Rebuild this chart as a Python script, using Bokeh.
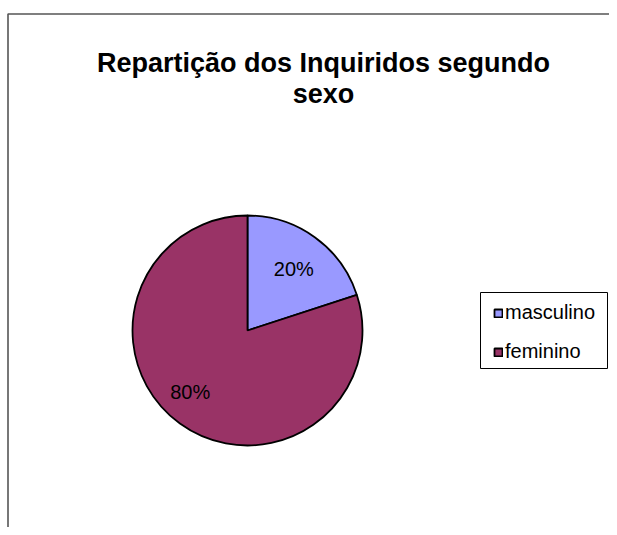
import numpy as np
from bokeh.plotting import figure
from bokeh.models import Range1d, Legend, LegendItem, ColumnDataSource
from bokeh.core.properties import value
from bokeh.embed import file_html
from bokeh.resources import INLINE

# ---- data ----
categories = ["masculino", "feminino"]
shares = [20, 80]
colors = ["#9999FF", "#993366"]
title_lines = ["Repartição dos Inquiridos segundo", "sexo"]

FONT = "Liberation Sans"
W, H = 609, 527

def py(screen_y):
    return H - screen_y

p = figure(width=W, height=H, output_backend="svg", toolbar_location=None,
           x_range=Range1d(0, W), y_range=Range1d(0, H), min_border=0)
p.axis.visible = False
p.grid.visible = False
p.outline_line_color = None
p.background_fill_color = "white"
p.border_fill_color = "white"

# chart-area frame (top and left edges visible)
p.line(x=[7.5, 7.5, W], y=[0, py(13.5), py(13.5)], line_color="#555555", line_width=1.6)

# ---- pie ----
cx, cy, r = 247, py(330), 115
frac = np.array(shares, dtype=float) / sum(shares)
cum = np.cumsum(frac)
start = np.pi / 2 - 2 * np.pi * (cum - frac)
end = np.pi / 2 - 2 * np.pi * cum
mid = (start + end) / 2

src = ColumnDataSource(dict(cat=categories, start=start, end=end, color=colors,
                            x=[cx] * len(shares), y=[cy] * len(shares)))
wr = p.wedge(x="x", y="y", radius=r, start_angle="start", end_angle="end",
             direction="clock", fill_color="color", line_color="black",
             line_width=1.8, source=src)

# data labels
lab_r = 0.7 * r
lab_src = ColumnDataSource(dict(
    x=cx + lab_r * np.cos(mid) - np.array([1, 10]),
    y=cy + lab_r * np.sin(mid) + np.array([-4, 4]),
    t=[f"{s}%" for s in shares]))
p.text(x="x", y="y", text="t", source=lab_src, text_align="center",
       text_baseline="middle", text_font=value(FONT), text_font_size="20px",
       text_color="black")

# ---- title ----
p.text(x=[323, 323], y=[py(62.5), py(93)], text=title_lines, text_align="center",
       text_baseline="alphabetic", text_font=value(FONT), text_font_style="bold",
       text_font_size="27px", text_color="black")

# ---- legend ----
# legend box
p.quad(left=[480], right=[607], top=[py(292)], bottom=[py(368)],
       fill_color="white", line_color="black", line_width=1)
items = [LegendItem(label=c, renderers=[wr], index=i) for i, c in enumerate(categories)]
legend = Legend(items=items, location=(493, H - 363), padding=9, spacing=16,
                margin=0, glyph_width=10, glyph_height=10, label_standoff=2,
                label_text_font=FONT, label_text_font_size="20px",
                label_text_color="black", label_height=22,
                border_line_color=None, background_fill_alpha=0)
p.add_layout(legend)

open("out.html", "w").write(file_html(p, INLINE))
